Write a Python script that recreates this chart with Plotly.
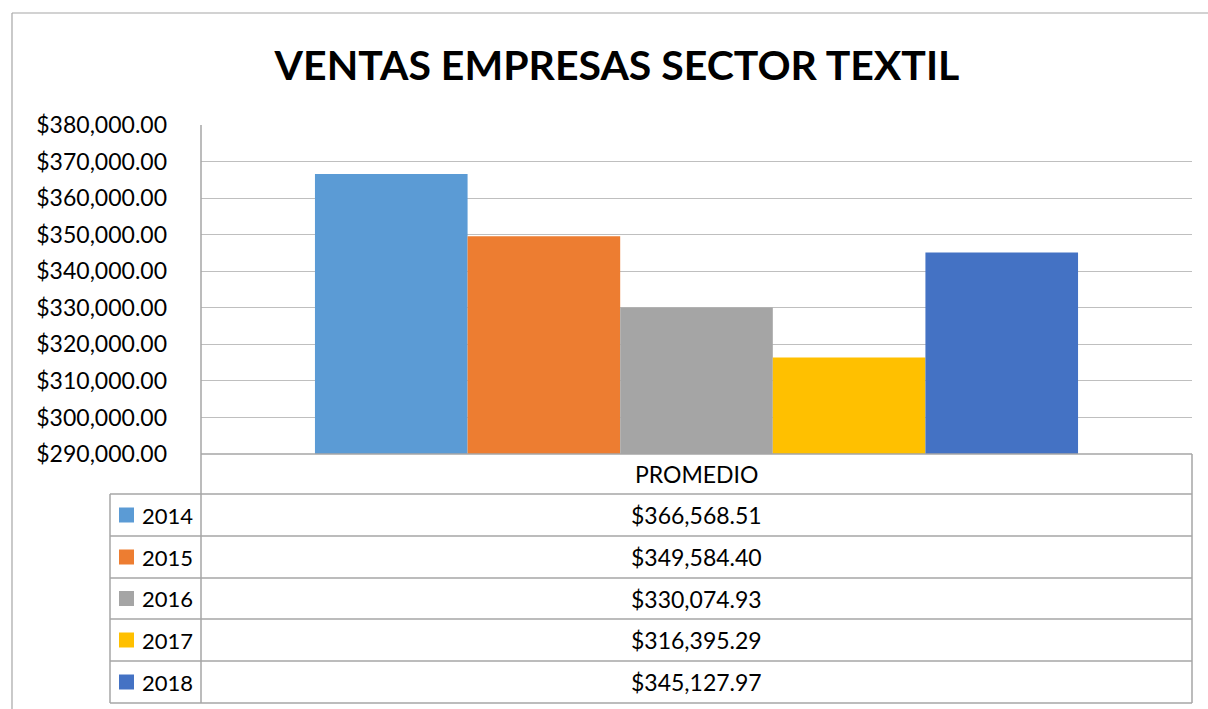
import plotly.graph_objects as go

W, H = 1208, 709

title = "VENTAS EMPRESAS SECTOR TEXTIL"
category = ["PROMEDIO"]
years = ["2014", "2015", "2016", "2017", "2018"]
promedio = [366568.51, 349584.40, 330074.93, 316395.29, 345127.97]
colors = ["#5b9bd5", "#ed7d31", "#a5a5a5", "#ffc000", "#4472c4"]
y_ticks = [290000, 300000, 310000, 320000, 330000, 340000, 350000, 360000, 370000, 380000]

FONT = "Lato"
GRID = "#bfbfbf"
LINE = "#a6a6a6"


def px_x(x):
	return x / W


def px_y(y):
	return 1 - y / H


fig = go.Figure()
for yr, val, col in zip(years, promedio, colors):
	fig.add_trace(go.Bar(
		x=category,
		y=[val],
		name=yr,
		marker=dict(color=col, line=dict(width=0)),
		showlegend=False,
	))

# plot area in pixels
px_left, px_right, px_top, px_bot = 201, 1192, 125, 454
row_tops = [454, 494, 536, 578, 619, 661, 703]
tbl_left = 110

shapes = []
# outer chart border (right/bottom edges fall outside the picture)
shapes.append(dict(type="line", xref="paper", yref="paper",
	x0=px_x(12), x1=px_x(1208), y0=px_y(13), y1=px_y(13),
	line=dict(color="#a6a6a6", width=1.2)))
shapes.append(dict(type="line", xref="paper", yref="paper",
	x0=px_x(12), x1=px_x(12), y0=px_y(13), y1=px_y(709),
	line=dict(color="#a6a6a6", width=1.2)))
# table horizontal lines
for i, yp in enumerate(row_tops):
	x0 = px_left if i == 0 else tbl_left
	shapes.append(dict(type="line", xref="paper", yref="paper",
		x0=px_x(x0), x1=px_x(px_right), y0=px_y(yp), y1=px_y(yp),
		line=dict(color=LINE, width=1.5)))
# table vertical lines
shapes.append(dict(type="line", xref="paper", yref="paper",
	x0=px_x(tbl_left), x1=px_x(tbl_left), y0=px_y(row_tops[1]), y1=px_y(row_tops[-1]),
	line=dict(color=LINE, width=1.5)))
shapes.append(dict(type="line", xref="paper", yref="paper",
	x0=px_x(px_left), x1=px_x(px_left), y0=px_y(px_top), y1=px_y(row_tops[-1]),
	line=dict(color=LINE, width=1.5)))
shapes.append(dict(type="line", xref="paper", yref="paper",
	x0=px_x(px_right), x1=px_x(px_right), y0=px_y(row_tops[0]), y1=px_y(row_tops[-1]),
	line=dict(color=LINE, width=1.5)))

TXT = 23
annotations = []
annotations.append(dict(text=category[0], xref="paper", yref="paper",
	x=px_x((px_left + px_right) / 2), y=px_y((row_tops[0] + row_tops[1]) / 2),
	xanchor="center", yanchor="middle", showarrow=False,
	font=dict(family=FONT, size=TXT, color="#000000")))
for i, (yr, val, col) in enumerate(zip(years, promedio, colors)):
	yc = (row_tops[i + 1] + row_tops[i + 2]) / 2
	shapes.append(dict(type="rect", xref="paper", yref="paper",
		x0=px_x(119), x1=px_x(134), y0=px_y(yc - 7.5), y1=px_y(yc + 7.5),
		fillcolor=col, line=dict(width=0)))
	annotations.append(dict(text=yr, xref="paper", yref="paper",
		x=px_x(140), y=px_y(yc), xanchor="left", yanchor="middle", showarrow=False,
		font=dict(family=FONT, size=22, color="#000000")))
	annotations.append(dict(text="${:,.2f}".format(val), xref="paper", yref="paper",
		x=px_x((px_left + px_right) / 2), y=px_y(yc), xanchor="center", yanchor="middle",
		showarrow=False, font=dict(family=FONT, size=TXT, color="#000000")))

fig.update_layout(
	width=W,
	height=H,
	margin=dict(l=0, r=0, t=0, b=0, pad=0, autoexpand=False),
	paper_bgcolor="white",
	plot_bgcolor="white",
	showlegend=False,
	barmode="group",
	bargap=0.23,
	bargroupgap=0,
	title=dict(
		text="<b>" + title + "</b>",
		x=px_x(617), y=px_y(66), xref="paper", yref="paper",
		xanchor="center", yanchor="middle",
		font=dict(family=FONT, size=41, color="#000000"),
	),
	xaxis=dict(
		domain=[px_x(px_left), px_x(px_right)],
		range=[-0.5, 0.5],
		showticklabels=False,
		showgrid=False,
		zeroline=False,
		showline=False,
		automargin=False,
	),
	yaxis=dict(
		domain=[px_y(px_bot), px_y(px_top)],
		range=[y_ticks[0], y_ticks[-1]],
		tickvals=y_ticks,
		tickformat="$,.2f",
		showgrid=True,
		gridcolor=GRID,
		gridwidth=1.2,
		zeroline=False,
		showline=False,
		ticks="",
		ticklabelstandoff=33,
		automargin=False,
		tickfont=dict(family=FONT, size=23, color="#000000"),
	),
	shapes=shapes,
	annotations=annotations,
)

fig.write_html("out.html", config={"displayModeBar": False},
	post_script="document.body.style.margin='0';")
